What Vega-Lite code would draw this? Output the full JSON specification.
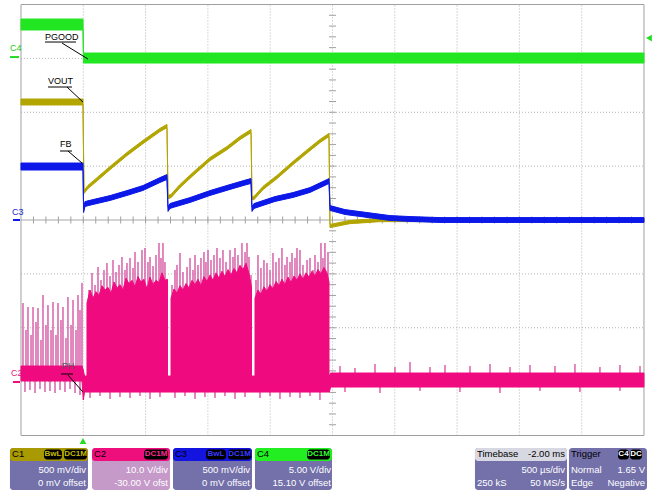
{
  "$schema": "https://vega.github.io/schema/vega-lite/v6.json",
  "width": 657,
  "height": 491,
  "autosize": {"type": "fit", "contains": "padding"},
  "padding": 0,
  "background": "white",
  "config": {"view": {"stroke": null}},
  "datasets": {
    "grid": [
      {"x": 1, "x2": 1, "y": -4, "y2": 4}, {"x": 2, "x2": 2, "y": -4, "y2": 4}, {"x": 3, "x2": 3, "y": -4, "y2": 4},
      {"x": 4, "x2": 4, "y": -4, "y2": 4}, {"x": 5, "x2": 5, "y": -4, "y2": 4}, {"x": 6, "x2": 6, "y": -4, "y2": 4},
      {"x": 7, "x2": 7, "y": -4, "y2": 4}, {"x": 8, "x2": 8, "y": -4, "y2": 4}, {"x": 9, "x2": 9, "y": -4, "y2": 4},
      {"x": 0, "x2": 10, "y": -3, "y2": -3}, {"x": 0, "x2": 10, "y": -2, "y2": -2}, {"x": 0, "x2": 10, "y": -1, "y2": -1},
      {"x": 0, "x2": 10, "y": 1, "y2": 1}, {"x": 0, "x2": 10, "y": 2, "y2": 2}, {"x": 0, "x2": 10, "y": 3, "y2": 3}
    ],
    "axes": [{"x": 0, "x2": 10, "y": 0, "y2": 0}],
    "frame": [{"x": 0, "x2": 10, "y": -4, "y2": 4}],
    "xticks": [
      {"x": 0.2, "y": 0}, {"x": 0.4, "y": 0}, {"x": 0.6, "y": 0}, {"x": 0.8, "y": 0}, {"x": 1.0, "y": 0}, {"x": 1.2, "y": 0}, {"x": 1.4, "y": 0}, {"x": 1.6, "y": 0}, {"x": 1.8, "y": 0}, {"x": 2.0, "y": 0},
      {"x": 2.2, "y": 0}, {"x": 2.4, "y": 0}, {"x": 2.6, "y": 0}, {"x": 2.8, "y": 0}, {"x": 3.0, "y": 0}, {"x": 3.2, "y": 0}, {"x": 3.4, "y": 0}, {"x": 3.6, "y": 0}, {"x": 3.8, "y": 0}, {"x": 4.0, "y": 0},
      {"x": 4.2, "y": 0}, {"x": 4.4, "y": 0}, {"x": 4.6, "y": 0}, {"x": 4.8, "y": 0}, {"x": 5.0, "y": 0}, {"x": 5.2, "y": 0}, {"x": 5.4, "y": 0}, {"x": 5.6, "y": 0}, {"x": 5.8, "y": 0}, {"x": 6.0, "y": 0},
      {"x": 6.2, "y": 0}, {"x": 6.4, "y": 0}, {"x": 6.6, "y": 0}, {"x": 6.8, "y": 0}, {"x": 7.0, "y": 0}, {"x": 7.2, "y": 0}, {"x": 7.4, "y": 0}, {"x": 7.6, "y": 0}, {"x": 7.8, "y": 0}, {"x": 8.0, "y": 0},
      {"x": 8.2, "y": 0}, {"x": 8.4, "y": 0}, {"x": 8.6, "y": 0}, {"x": 8.8, "y": 0}, {"x": 9.0, "y": 0}, {"x": 9.2, "y": 0}, {"x": 9.4, "y": 0}, {"x": 9.6, "y": 0}, {"x": 9.8, "y": 0}
    ],
    "yticks": [
      {"x": 5, "y": -3.8}, {"x": 5, "y": -3.6}, {"x": 5, "y": -3.4}, {"x": 5, "y": -3.2}, {"x": 5, "y": -3.0}, {"x": 5, "y": -2.8}, {"x": 5, "y": -2.6}, {"x": 5, "y": -2.4}, {"x": 5, "y": -2.2}, {"x": 5, "y": -2.0},
      {"x": 5, "y": -1.8}, {"x": 5, "y": -1.6}, {"x": 5, "y": -1.4}, {"x": 5, "y": -1.2}, {"x": 5, "y": -1.0}, {"x": 5, "y": -0.8}, {"x": 5, "y": -0.6}, {"x": 5, "y": -0.4}, {"x": 5, "y": -0.2},
      {"x": 5, "y": 0.2}, {"x": 5, "y": 0.4}, {"x": 5, "y": 0.6}, {"x": 5, "y": 0.8}, {"x": 5, "y": 1.0}, {"x": 5, "y": 1.2}, {"x": 5, "y": 1.4}, {"x": 5, "y": 1.6}, {"x": 5, "y": 1.8}, {"x": 5, "y": 2.0},
      {"x": 5, "y": 2.2}, {"x": 5, "y": 2.4}, {"x": 5, "y": 2.6}, {"x": 5, "y": 2.8}, {"x": 5, "y": 3.0}, {"x": 5, "y": 3.2}, {"x": 5, "y": 3.4}, {"x": 5, "y": 3.6}, {"x": 5, "y": 3.8}
    ],
    "spikes": [
      {"x": 0.032, "y": -2.95, "y2": -1.541}, {"x": 0.08, "y": -2.95, "y2": -2.042}, {"x": 0.112, "y": -2.95, "y2": -1.615}, {"x": 0.161, "y": -2.95, "y2": -2.134}, {"x": 0.193, "y": -2.95, "y2": -1.615},
      {"x": 0.241, "y": -2.95, "y2": -1.893}, {"x": 0.273, "y": -2.95, "y2": -1.633}, {"x": 0.321, "y": -2.95, "y2": -2.227}, {"x": 0.353, "y": -2.95, "y2": -1.392}, {"x": 0.401, "y": -2.95, "y2": -1.949},
      {"x": 0.433, "y": -2.95, "y2": -1.578}, {"x": 0.482, "y": -2.95, "y2": -2.042}, {"x": 0.514, "y": -2.95, "y2": -1.522}, {"x": 0.562, "y": -2.95, "y2": -2.134}, {"x": 0.594, "y": -2.95, "y2": -1.541},
      {"x": 0.642, "y": -2.95, "y2": -1.856}, {"x": 0.674, "y": -2.95, "y2": -1.615}, {"x": 0.722, "y": -2.95, "y2": -2.19}, {"x": 0.754, "y": -2.95, "y2": -1.429}, {"x": 0.803, "y": -2.95, "y2": -1.949},
      {"x": 0.835, "y": -2.95, "y2": -1.485}, {"x": 0.883, "y": -2.95, "y2": -2.042}, {"x": 0.915, "y": -2.95, "y2": -1.392}, {"x": 0.947, "y": -2.95, "y2": -1.67}, {"x": 0.979, "y": -2.95, "y2": -1.169},
      {"x": 1.091, "y": -2.95, "y2": -1.299}, {"x": 1.14, "y": -2.95, "y2": -0.984}, {"x": 1.188, "y": -2.95, "y2": -1.206}, {"x": 1.236, "y": -2.95, "y2": -0.872}, {"x": 1.284, "y": -2.95, "y2": -1.114},
      {"x": 1.332, "y": -2.95, "y2": -0.928}, {"x": 1.38, "y": -2.95, "y2": -0.798}, {"x": 1.429, "y": -2.95, "y2": -1.039}, {"x": 1.477, "y": -2.95, "y2": -0.742}, {"x": 1.525, "y": -2.95, "y2": -0.965},
      {"x": 1.573, "y": -2.95, "y2": -0.835}, {"x": 1.621, "y": -2.95, "y2": -0.687}, {"x": 1.669, "y": -2.95, "y2": -0.928}, {"x": 1.701, "y": -2.95, "y2": -0.798}, {"x": 1.75, "y": -2.95, "y2": -0.705},
      {"x": 1.798, "y": -2.95, "y2": -0.891}, {"x": 1.83, "y": -2.95, "y2": -0.594}, {"x": 1.878, "y": -2.95, "y2": -0.78}, {"x": 1.942, "y": -2.95, "y2": -0.557}, {"x": 1.99, "y": -2.95, "y2": -0.52},
      {"x": 2.038, "y": -2.95, "y2": -0.78}, {"x": 2.071, "y": -2.95, "y2": -0.687}, {"x": 2.119, "y": -2.95, "y2": -0.854}, {"x": 2.167, "y": -2.95, "y2": -0.65}, {"x": 2.215, "y": -2.95, "y2": -0.427},
      {"x": 2.247, "y": -2.95, "y2": -0.705}, {"x": 2.279, "y": -2.95, "y2": -0.427}, {"x": 2.311, "y": -2.95, "y2": -0.78}, {"x": 2.343, "y": -2.95, "y2": -1.114},
      {"x": 2.424, "y": -2.95, "y2": -1.206}, {"x": 2.472, "y": -2.95, "y2": -0.928}, {"x": 2.504, "y": -2.95, "y2": -0.835}, {"x": 2.552, "y": -2.95, "y2": -0.613}, {"x": 2.6, "y": -2.95, "y2": -0.965},
      {"x": 2.665, "y": -2.95, "y2": -0.872}, {"x": 2.713, "y": -2.95, "y2": -0.705}, {"x": 2.761, "y": -2.95, "y2": -0.928}, {"x": 2.793, "y": -2.95, "y2": -0.65}, {"x": 2.841, "y": -2.95, "y2": -0.835},
      {"x": 2.889, "y": -2.95, "y2": -0.705}, {"x": 2.937, "y": -2.95, "y2": -0.594}, {"x": 2.969, "y": -2.95, "y2": -0.78}, {"x": 3.002, "y": -2.95, "y2": -0.557}, {"x": 3.05, "y": -2.95, "y2": -0.742},
      {"x": 3.098, "y": -2.95, "y2": -0.65}, {"x": 3.146, "y": -2.95, "y2": -0.52}, {"x": 3.194, "y": -2.95, "y2": -0.705}, {"x": 3.242, "y": -2.95, "y2": -0.557}, {"x": 3.291, "y": -2.95, "y2": -0.78},
      {"x": 3.355, "y": -2.95, "y2": -0.557}, {"x": 3.403, "y": -2.95, "y2": -0.687}, {"x": 3.435, "y": -2.95, "y2": -0.52}, {"x": 3.483, "y": -2.95, "y2": -0.65}, {"x": 3.547, "y": -2.95, "y2": -0.427},
      {"x": 3.596, "y": -2.95, "y2": -0.594}, {"x": 3.628, "y": -2.95, "y2": -0.427}, {"x": 3.66, "y": -2.95, "y2": -0.687}, {"x": 3.692, "y": -2.95, "y2": -1.021},
      {"x": 3.772, "y": -2.95, "y2": -1.114}, {"x": 3.804, "y": -2.95, "y2": -0.65}, {"x": 3.852, "y": -2.95, "y2": -0.891}, {"x": 3.9, "y": -2.95, "y2": -0.742}, {"x": 3.949, "y": -2.95, "y2": -0.798},
      {"x": 3.997, "y": -2.95, "y2": -0.928}, {"x": 4.045, "y": -2.95, "y2": -0.613}, {"x": 4.093, "y": -2.95, "y2": -0.78}, {"x": 4.141, "y": -2.95, "y2": -0.705}, {"x": 4.189, "y": -2.95, "y2": -0.52},
      {"x": 4.237, "y": -2.95, "y2": -0.835}, {"x": 4.27, "y": -2.95, "y2": -0.687}, {"x": 4.318, "y": -2.95, "y2": -0.78}, {"x": 4.35, "y": -2.95, "y2": -0.613}, {"x": 4.398, "y": -2.95, "y2": -0.705},
      {"x": 4.43, "y": -2.95, "y2": -0.52}, {"x": 4.478, "y": -2.95, "y2": -0.557}, {"x": 4.526, "y": -2.95, "y2": -0.835}, {"x": 4.591, "y": -2.95, "y2": -0.742}, {"x": 4.639, "y": -2.95, "y2": -0.705},
      {"x": 4.687, "y": -2.95, "y2": -0.928}, {"x": 4.719, "y": -2.95, "y2": -0.65}, {"x": 4.767, "y": -2.95, "y2": -0.78}, {"x": 4.815, "y": -2.95, "y2": -0.427}, {"x": 4.847, "y": -2.95, "y2": -0.705},
      {"x": 4.879, "y": -2.95, "y2": -0.427}, {"x": 4.928, "y": -2.95, "y2": -0.594},
      {"x": 0.064, "y": -2.95, "y2": -3.193}, {"x": 0.144, "y": -2.95, "y2": -3.155}, {"x": 0.225, "y": -2.95, "y2": -3.211}, {"x": 0.305, "y": -2.95, "y2": -3.137}, {"x": 0.385, "y": -2.95, "y2": -3.193},
      {"x": 0.465, "y": -2.95, "y2": -3.174}, {"x": 0.546, "y": -2.95, "y2": -3.211}, {"x": 0.626, "y": -2.95, "y2": -3.155}, {"x": 0.706, "y": -2.95, "y2": -3.193}, {"x": 0.787, "y": -2.95, "y2": -3.137},
      {"x": 0.867, "y": -2.95, "y2": -3.211}, {"x": 0.947, "y": -2.95, "y2": -3.248},
      {"x": 1.108, "y": -2.95, "y2": -3.304}, {"x": 1.268, "y": -2.95, "y2": -3.267}, {"x": 1.429, "y": -2.95, "y2": -3.322}, {"x": 1.589, "y": -2.95, "y2": -3.285}, {"x": 1.75, "y": -2.95, "y2": -3.304},
      {"x": 1.91, "y": -2.95, "y2": -3.267}, {"x": 2.071, "y": -2.95, "y2": -3.322}, {"x": 2.231, "y": -2.95, "y2": -3.285}, {"x": 2.472, "y": -2.95, "y2": -3.304}, {"x": 2.632, "y": -2.95, "y2": -3.267},
      {"x": 2.793, "y": -2.95, "y2": -3.322}, {"x": 2.953, "y": -2.95, "y2": -3.285}, {"x": 3.114, "y": -2.95, "y2": -3.304}, {"x": 3.274, "y": -2.95, "y2": -3.267}, {"x": 3.435, "y": -2.95, "y2": -3.322},
      {"x": 3.596, "y": -2.95, "y2": -3.285}, {"x": 3.836, "y": -2.95, "y2": -3.304}, {"x": 3.997, "y": -2.95, "y2": -3.267}, {"x": 4.157, "y": -2.95, "y2": -3.322}, {"x": 4.318, "y": -2.95, "y2": -3.285},
      {"x": 4.478, "y": -2.95, "y2": -3.304}, {"x": 4.639, "y": -2.95, "y2": -3.267}, {"x": 4.799, "y": -2.95, "y2": -3.341},
      {"x": 5.12, "y": -2.95, "y2": -2.71}, {"x": 5.361, "y": -2.95, "y2": -2.747}, {"x": 5.682, "y": -2.95, "y2": -2.673}, {"x": 6.003, "y": -2.95, "y2": -2.729}, {"x": 6.244, "y": -2.95, "y2": -2.636},
      {"x": 6.565, "y": -2.95, "y2": -2.729}, {"x": 6.806, "y": -2.95, "y2": -2.691}, {"x": 7.207, "y": -2.95, "y2": -2.71}, {"x": 7.528, "y": -2.95, "y2": -2.673}, {"x": 7.849, "y": -2.95, "y2": -2.729},
      {"x": 8.17, "y": -2.95, "y2": -2.691}, {"x": 8.571, "y": -2.95, "y2": -2.71}, {"x": 8.892, "y": -2.95, "y2": -2.673}, {"x": 9.293, "y": -2.95, "y2": -2.729}, {"x": 9.614, "y": -2.95, "y2": -2.691},
      {"x": 9.936, "y": -2.95, "y2": -2.71},
      {"x": 5.201, "y": -2.95, "y2": -3.193}, {"x": 5.762, "y": -2.95, "y2": -3.211}, {"x": 6.404, "y": -2.95, "y2": -3.174}, {"x": 7.046, "y": -2.95, "y2": -3.193}, {"x": 7.688, "y": -2.95, "y2": -3.211},
      {"x": 8.33, "y": -2.95, "y2": -3.174}, {"x": 8.972, "y": -2.95, "y2": -3.193}, {"x": 9.614, "y": -2.95, "y2": -3.174}
    ],
    "traces": [
      {"ch": "C4", "seg": "a", "x": 0, "y": 3.527, "y2": 3.731},
      {"ch": "C4", "seg": "a", "x": 0.995, "y": 3.527, "y2": 3.731},
      {"ch": "C4", "seg": "a", "x": 1.003, "y": 2.914, "y2": 3.1},
      {"ch": "C4", "seg": "a", "x": 10, "y": 2.914, "y2": 3.1},

      {"ch": "C1", "seg": "a", "x": 0, "y": 2.135, "y2": 2.246},
      {"ch": "C1", "seg": "a", "x": 0.995, "y": 2.135, "y2": 2.246},
      {"ch": "C1", "seg": "a", "x": 1.011, "y": 0.49, "y2": 0.55},
      {"ch": "C1", "seg": "a", "x": 1.075, "y": 0.583, "y2": 0.643},
      {"ch": "C1", "seg": "a", "x": 1.188, "y": 0.694, "y2": 0.754},
      {"ch": "C1", "seg": "a", "x": 1.429, "y": 0.935, "y2": 0.995},
      {"ch": "C1", "seg": "a", "x": 1.701, "y": 1.195, "y2": 1.255},
      {"ch": "C1", "seg": "a", "x": 1.958, "y": 1.418, "y2": 1.478},
      {"ch": "C1", "seg": "a", "x": 2.231, "y": 1.641, "y2": 1.701},
      {"ch": "C1", "seg": "a", "x": 2.343, "y": 1.715, "y2": 1.775},
      {"ch": "C1", "seg": "a", "x": 2.36, "y": 0.397, "y2": 0.457},
      {"ch": "C1", "seg": "a", "x": 2.408, "y": 0.415, "y2": 0.475},
      {"ch": "C1", "seg": "a", "x": 2.552, "y": 0.601, "y2": 0.661},
      {"ch": "C1", "seg": "a", "x": 2.761, "y": 0.824, "y2": 0.884},
      {"ch": "C1", "seg": "a", "x": 3.034, "y": 1.102, "y2": 1.162},
      {"ch": "C1", "seg": "a", "x": 3.307, "y": 1.306, "y2": 1.366},
      {"ch": "C1", "seg": "a", "x": 3.515, "y": 1.492, "y2": 1.552},
      {"ch": "C1", "seg": "a", "x": 3.692, "y": 1.622, "y2": 1.682},
      {"ch": "C1", "seg": "a", "x": 3.708, "y": 0.378, "y2": 0.438},
      {"ch": "C1", "seg": "a", "x": 3.74, "y": 0.378, "y2": 0.438},
      {"ch": "C1", "seg": "a", "x": 3.884, "y": 0.564, "y2": 0.624},
      {"ch": "C1", "seg": "a", "x": 4.109, "y": 0.768, "y2": 0.828},
      {"ch": "C1", "seg": "a", "x": 4.366, "y": 1.028, "y2": 1.088},
      {"ch": "C1", "seg": "a", "x": 4.639, "y": 1.288, "y2": 1.348},
      {"ch": "C1", "seg": "a", "x": 4.799, "y": 1.436, "y2": 1.496},
      {"ch": "C1", "seg": "a", "x": 4.944, "y": 1.548, "y2": 1.608},
      {"ch": "C1", "seg": "a", "x": 4.96, "y": -0.141, "y2": -0.081},
      {"ch": "C1", "seg": "a", "x": 5.12, "y": -0.104, "y2": -0.044},
      {"ch": "C1", "seg": "a", "x": 5.281, "y": -0.067, "y2": -0.007},
      {"ch": "C1", "seg": "a", "x": 5.522, "y": -0.049, "y2": 0.011},
      {"ch": "C1", "seg": "a", "x": 5.762, "y": -0.03, "y2": 0.03},
      {"ch": "C1", "seg": "a", "x": 10, "y": -0.03, "y2": 0.03},

      {"ch": "C3", "seg": "a", "x": 0, "y": 0.928, "y2": 1.058},
      {"ch": "C3", "seg": "a", "x": 0.995, "y": 0.928, "y2": 1.058},
      {"ch": "C3", "seg": "a", "x": 1.005, "y": 0.14, "y2": 0.232},
      {"ch": "C3", "seg": "a", "x": 1.027, "y": 0.252, "y2": 0.342},
      {"ch": "C3", "seg": "a", "x": 1.156, "y": 0.289, "y2": 0.379},
      {"ch": "C3", "seg": "a", "x": 1.429, "y": 0.363, "y2": 0.453},
      {"ch": "C3", "seg": "a", "x": 1.701, "y": 0.456, "y2": 0.546},
      {"ch": "C3", "seg": "a", "x": 1.958, "y": 0.549, "y2": 0.639},
      {"ch": "C3", "seg": "a", "x": 2.231, "y": 0.697, "y2": 0.787},
      {"ch": "C3", "seg": "a", "x": 2.343, "y": 0.753, "y2": 0.843},
      {"ch": "C3", "seg": "a", "x": 2.36, "y": 0.159, "y2": 0.249},
      {"ch": "C3", "seg": "a", "x": 2.392, "y": 0.215, "y2": 0.305},
      {"ch": "C3", "seg": "a", "x": 2.44, "y": 0.233, "y2": 0.323},
      {"ch": "C3", "seg": "a", "x": 2.713, "y": 0.326, "y2": 0.416},
      {"ch": "C3", "seg": "a", "x": 3.034, "y": 0.456, "y2": 0.546},
      {"ch": "C3", "seg": "a", "x": 3.355, "y": 0.568, "y2": 0.658},
      {"ch": "C3", "seg": "a", "x": 3.628, "y": 0.66, "y2": 0.75},
      {"ch": "C3", "seg": "a", "x": 3.692, "y": 0.679, "y2": 0.769},
      {"ch": "C3", "seg": "a", "x": 3.708, "y": 0.159, "y2": 0.249},
      {"ch": "C3", "seg": "a", "x": 3.74, "y": 0.215, "y2": 0.305},
      {"ch": "C3", "seg": "a", "x": 3.788, "y": 0.233, "y2": 0.323},
      {"ch": "C3", "seg": "a", "x": 4.077, "y": 0.345, "y2": 0.435},
      {"ch": "C3", "seg": "a", "x": 4.366, "y": 0.419, "y2": 0.509},
      {"ch": "C3", "seg": "a", "x": 4.639, "y": 0.512, "y2": 0.602},
      {"ch": "C3", "seg": "a", "x": 4.911, "y": 0.66, "y2": 0.75},
      {"ch": "C3", "seg": "a", "x": 4.944, "y": 0.679, "y2": 0.769},
      {"ch": "C3", "seg": "a", "x": 4.96, "y": 0.178, "y2": 0.268},
      {"ch": "C3", "seg": "a", "x": 5.201, "y": 0.103, "y2": 0.193},
      {"ch": "C3", "seg": "a", "x": 5.441, "y": 0.066, "y2": 0.156},
      {"ch": "C3", "seg": "a", "x": 5.682, "y": 0.029, "y2": 0.119},
      {"ch": "C3", "seg": "a", "x": 5.923, "y": -0.008, "y2": 0.082},
      {"ch": "C3", "seg": "a", "x": 6.244, "y": -0.026, "y2": 0.064},
      {"ch": "C3", "seg": "a", "x": 6.726, "y": -0.045, "y2": 0.045},
      {"ch": "C3", "seg": "a", "x": 10, "y": -0.045, "y2": 0.045},

      {"ch": "C2", "seg": "base", "x": 0, "y": -2.988, "y2": -2.71},
      {"ch": "C2", "seg": "base", "x": 0.98, "y": -2.988, "y2": -2.71},
      {"ch": "C2", "seg": "base", "x": 1.0, "y": -3.341, "y2": -2.784},
      {"ch": "C2", "seg": "base", "x": 1.02, "y": -3.193, "y2": -2.896},
      {"ch": "C2", "seg": "base", "x": 4.95, "y": -3.193, "y2": -2.896},
      {"ch": "C2", "seg": "base", "x": 4.97, "y": -3.1, "y2": -2.84},
      {"ch": "C2", "seg": "base", "x": 10, "y": -3.1, "y2": -2.84},

      {"ch": "C2", "seg": "d1", "x": 1.059, "y": -3.118, "y2": -1.541},
      {"ch": "C2", "seg": "d1", "x": 1.108, "y": -3.118, "y2": -1.3},
      {"ch": "C2", "seg": "d1", "x": 1.156, "y": -3.118, "y2": -1.45},
      {"ch": "C2", "seg": "d1", "x": 1.204, "y": -3.118, "y2": -1.33},
      {"ch": "C2", "seg": "d1", "x": 1.252, "y": -3.118, "y2": -1.4},
      {"ch": "C2", "seg": "d1", "x": 1.3, "y": -3.118, "y2": -1.22},
      {"ch": "C2", "seg": "d1", "x": 1.348, "y": -3.118, "y2": -1.3},
      {"ch": "C2", "seg": "d1", "x": 1.396, "y": -3.118, "y2": -1.25},
      {"ch": "C2", "seg": "d1", "x": 1.445, "y": -3.118, "y2": -1.36},
      {"ch": "C2", "seg": "d1", "x": 1.493, "y": -3.118, "y2": -1.15},
      {"ch": "C2", "seg": "d1", "x": 1.541, "y": -3.118, "y2": -1.26},
      {"ch": "C2", "seg": "d1", "x": 1.589, "y": -3.118, "y2": -1.2},
      {"ch": "C2", "seg": "d1", "x": 1.637, "y": -3.118, "y2": -1.3},
      {"ch": "C2", "seg": "d1", "x": 1.685, "y": -3.118, "y2": -1.08},
      {"ch": "C2", "seg": "d1", "x": 1.733, "y": -3.118, "y2": -1.18},
      {"ch": "C2", "seg": "d1", "x": 1.782, "y": -3.118, "y2": -1.12},
      {"ch": "C2", "seg": "d1", "x": 1.83, "y": -3.118, "y2": -1.24},
      {"ch": "C2", "seg": "d1", "x": 1.878, "y": -3.118, "y2": -1.05},
      {"ch": "C2", "seg": "d1", "x": 1.926, "y": -3.118, "y2": -1.15},
      {"ch": "C2", "seg": "d1", "x": 1.974, "y": -3.118, "y2": -1.1},
      {"ch": "C2", "seg": "d1", "x": 2.022, "y": -3.118, "y2": -1.28},
      {"ch": "C2", "seg": "d1", "x": 2.071, "y": -3.118, "y2": -1.06},
      {"ch": "C2", "seg": "d1", "x": 2.119, "y": -3.118, "y2": -1.2},
      {"ch": "C2", "seg": "d1", "x": 2.167, "y": -3.118, "y2": -1.12},
      {"ch": "C2", "seg": "d1", "x": 2.215, "y": -3.118, "y2": -1.16},
      {"ch": "C2", "seg": "d1", "x": 2.263, "y": -3.118, "y2": -0.98},
      {"ch": "C2", "seg": "d1", "x": 2.311, "y": -3.118, "y2": -1.12},
      {"ch": "C2", "seg": "d1", "x": 2.351, "y": -3.118, "y2": -1.1},

      {"ch": "C2", "seg": "d2", "x": 2.408, "y": -3.118, "y2": -1.45},
      {"ch": "C2", "seg": "d2", "x": 2.456, "y": -3.118, "y2": -1.28},
      {"ch": "C2", "seg": "d2", "x": 2.504, "y": -3.118, "y2": -1.36},
      {"ch": "C2", "seg": "d2", "x": 2.552, "y": -3.118, "y2": -1.22},
      {"ch": "C2", "seg": "d2", "x": 2.6, "y": -3.118, "y2": -1.3},
      {"ch": "C2", "seg": "d2", "x": 2.648, "y": -3.118, "y2": -1.18},
      {"ch": "C2", "seg": "d2", "x": 2.697, "y": -3.118, "y2": -1.26},
      {"ch": "C2", "seg": "d2", "x": 2.745, "y": -3.118, "y2": -1.12},
      {"ch": "C2", "seg": "d2", "x": 2.793, "y": -3.118, "y2": -1.2},
      {"ch": "C2", "seg": "d2", "x": 2.841, "y": -3.118, "y2": -1.1},
      {"ch": "C2", "seg": "d2", "x": 2.889, "y": -3.118, "y2": -1.22},
      {"ch": "C2", "seg": "d2", "x": 2.937, "y": -3.118, "y2": -1.05},
      {"ch": "C2", "seg": "d2", "x": 2.985, "y": -3.118, "y2": -1.14},
      {"ch": "C2", "seg": "d2", "x": 3.034, "y": -3.118, "y2": -1.02},
      {"ch": "C2", "seg": "d2", "x": 3.082, "y": -3.118, "y2": -1.12},
      {"ch": "C2", "seg": "d2", "x": 3.13, "y": -3.118, "y2": -0.98},
      {"ch": "C2", "seg": "d2", "x": 3.178, "y": -3.118, "y2": -1.08},
      {"ch": "C2", "seg": "d2", "x": 3.226, "y": -3.118, "y2": -0.95},
      {"ch": "C2", "seg": "d2", "x": 3.274, "y": -3.118, "y2": -1.05},
      {"ch": "C2", "seg": "d2", "x": 3.323, "y": -3.118, "y2": -0.92},
      {"ch": "C2", "seg": "d2", "x": 3.371, "y": -3.118, "y2": -1.02},
      {"ch": "C2", "seg": "d2", "x": 3.419, "y": -3.118, "y2": -0.9},
      {"ch": "C2", "seg": "d2", "x": 3.467, "y": -3.118, "y2": -0.98},
      {"ch": "C2", "seg": "d2", "x": 3.515, "y": -3.118, "y2": -0.84},
      {"ch": "C2", "seg": "d2", "x": 3.563, "y": -3.118, "y2": -0.92},
      {"ch": "C2", "seg": "d2", "x": 3.612, "y": -3.118, "y2": -0.8},
      {"ch": "C2", "seg": "d2", "x": 3.66, "y": -3.118, "y2": -1.0},
      {"ch": "C2", "seg": "d2", "x": 3.7, "y": -3.118, "y2": -1.25},

      {"ch": "C2", "seg": "d3", "x": 3.756, "y": -3.118, "y2": -1.45},
      {"ch": "C2", "seg": "d3", "x": 3.804, "y": -3.118, "y2": -1.3},
      {"ch": "C2", "seg": "d3", "x": 3.852, "y": -3.118, "y2": -1.38},
      {"ch": "C2", "seg": "d3", "x": 3.9, "y": -3.118, "y2": -1.24},
      {"ch": "C2", "seg": "d3", "x": 3.949, "y": -3.118, "y2": -1.32},
      {"ch": "C2", "seg": "d3", "x": 3.997, "y": -3.118, "y2": -1.2},
      {"ch": "C2", "seg": "d3", "x": 4.045, "y": -3.118, "y2": -1.28},
      {"ch": "C2", "seg": "d3", "x": 4.093, "y": -3.118, "y2": -1.14},
      {"ch": "C2", "seg": "d3", "x": 4.141, "y": -3.118, "y2": -1.22},
      {"ch": "C2", "seg": "d3", "x": 4.189, "y": -3.118, "y2": -1.1},
      {"ch": "C2", "seg": "d3", "x": 4.237, "y": -3.118, "y2": -1.2},
      {"ch": "C2", "seg": "d3", "x": 4.286, "y": -3.118, "y2": -1.06},
      {"ch": "C2", "seg": "d3", "x": 4.334, "y": -3.118, "y2": -1.16},
      {"ch": "C2", "seg": "d3", "x": 4.382, "y": -3.118, "y2": -1.04},
      {"ch": "C2", "seg": "d3", "x": 4.43, "y": -3.118, "y2": -1.12},
      {"ch": "C2", "seg": "d3", "x": 4.478, "y": -3.118, "y2": -1.0},
      {"ch": "C2", "seg": "d3", "x": 4.526, "y": -3.118, "y2": -1.1},
      {"ch": "C2", "seg": "d3", "x": 4.575, "y": -3.118, "y2": -0.98},
      {"ch": "C2", "seg": "d3", "x": 4.623, "y": -3.118, "y2": -1.06},
      {"ch": "C2", "seg": "d3", "x": 4.671, "y": -3.118, "y2": -0.95},
      {"ch": "C2", "seg": "d3", "x": 4.719, "y": -3.118, "y2": -1.04},
      {"ch": "C2", "seg": "d3", "x": 4.767, "y": -3.118, "y2": -0.92},
      {"ch": "C2", "seg": "d3", "x": 4.815, "y": -3.118, "y2": -1.0},
      {"ch": "C2", "seg": "d3", "x": 4.863, "y": -3.118, "y2": -0.88},
      {"ch": "C2", "seg": "d3", "x": 4.911, "y": -3.118, "y2": -0.98},
      {"ch": "C2", "seg": "d3", "x": 4.944, "y": -3.118, "y2": -1.15}
    ],
    "leaders": [
      {"x": 0.385, "y": 3.304, "x2": 0.883, "y2": 3.304},
      {"x": 0.658, "y": 3.285, "x2": 1.075, "y2": 2.988},
      {"x": 0.433, "y": 2.469, "x2": 0.819, "y2": 2.469},
      {"x": 0.738, "y": 2.469, "x2": 0.995, "y2": 2.19},
      {"x": 0.626, "y": 1.281, "x2": 0.819, "y2": 1.281},
      {"x": 0.754, "y": 1.281, "x2": 0.979, "y2": 1.058},
      {"x": 0.642, "y": -2.858, "x2": 0.835, "y2": -2.858},
      {"x": 0.754, "y": -2.877, "x2": 0.995, "y2": -3.193}
    ],
    "chmarks": [
      {"x": -0.177, "x2": -0.032, "y": 3.025, "y2": 3.025, "ch": "C4"},
      {"x": -0.128, "x2": -0.016, "y": 0, "y2": 0, "ch": "C3"},
      {"x": -0.128, "x2": -0.016, "y": -3.007, "y2": -3.007, "ch": "C2"}
    ],
    "labels": [
      {"x": 0.385, "y": 3.397, "text": "PGOOD", "tone": "ink"},
      {"x": 0.433, "y": 2.58, "text": "VOUT", "tone": "ink"},
      {"x": 0.626, "y": 1.411, "text": "FB", "tone": "ink"},
      {"x": 0.658, "y": -2.71, "text": "PH", "tone": "gray"},
      {"x": -0.177, "y": 3.193, "text": "C4", "tone": "C4"},
      {"x": -0.144, "y": 0.148, "text": "C3", "tone": "C3"},
      {"x": -0.16, "y": -2.84, "text": "C2", "tone": "C2"}
    ],
    "markers": [
      {"x": 10.08, "y": 3.378, "dir": "left"},
      {"x": 0.995, "y": -4.102, "dir": "up"}
    ],
    "panel": [
      {"x": -0.177, "x2": 1.075, "y": -5.012, "y2": -4.232, "fill": "body"},
      {"x": 1.14, "x2": 2.392, "y": -5.012, "y2": -4.232, "fill": "body2"},
      {"x": 2.44, "x2": 3.708, "y": -5.012, "y2": -4.232, "fill": "body"},
      {"x": 3.756, "x2": 4.992, "y": -5.012, "y2": -4.232, "fill": "body"},
      {"x": 7.287, "x2": 8.764, "y": -5.012, "y2": -4.232, "fill": "body"},
      {"x": 8.796, "x2": 10.048, "y": -5.012, "y2": -4.232, "fill": "body"},
      {"x": -0.177, "x2": 1.075, "y": -4.473, "y2": -4.232, "fill": "C1"},
      {"x": 1.14, "x2": 2.392, "y": -4.473, "y2": -4.232, "fill": "C2"},
      {"x": 2.44, "x2": 3.708, "y": -4.473, "y2": -4.232, "fill": "C3"},
      {"x": 3.756, "x2": 4.992, "y": -4.473, "y2": -4.232, "fill": "C4"},
      {"x": 7.287, "x2": 8.764, "y": -4.473, "y2": -4.232, "fill": "gray"},
      {"x": 0.369, "x2": 0.658, "y": -4.445, "y2": -4.259, "fill": "tag"},
      {"x": 0.69, "x2": 1.059, "y": -4.445, "y2": -4.259, "fill": "tag"},
      {"x": 1.975, "x2": 2.36, "y": -4.445, "y2": -4.259, "fill": "tag"},
      {"x": 2.969, "x2": 3.291, "y": -4.445, "y2": -4.259, "fill": "tag"},
      {"x": 3.323, "x2": 3.692, "y": -4.445, "y2": -4.259, "fill": "tag"},
      {"x": 4.591, "x2": 4.96, "y": -4.445, "y2": -4.259, "fill": "tag"},
      {"x": 9.583, "x2": 9.759, "y": -4.445, "y2": -4.259, "fill": "tag"},
      {"x": 9.775, "x2": 9.968, "y": -4.445, "y2": -4.259, "fill": "tag"}
    ],
    "ptext": [
      {"x": 0.514, "y": -4.352, "text": "BwL", "tone": "C1", "align": "center"},
      {"x": 0.875, "y": -4.352, "text": "DC1M", "tone": "C1", "align": "center"},
      {"x": 2.168, "y": -4.352, "text": "DC1M", "tone": "C2", "align": "center"},
      {"x": 3.13, "y": -4.352, "text": "BwL", "tone": "C3", "align": "center"},
      {"x": 3.508, "y": -4.352, "text": "DC1M", "tone": "C3", "align": "center"},
      {"x": 4.776, "y": -4.352, "text": "DC1M", "tone": "C4", "align": "center"},
      {"x": 9.671, "y": -4.352, "text": "C4", "tone": "white", "align": "center"},
      {"x": 9.872, "y": -4.352, "text": "DC", "tone": "white", "align": "center"},
      {"x": -0.144, "y": -4.352, "text": "C1", "tone": "ink", "align": "left"},
      {"x": 1.172, "y": -4.352, "text": "C2", "tone": "ink", "align": "left"},
      {"x": 2.472, "y": -4.352, "text": "C3", "tone": "ink", "align": "left"},
      {"x": 3.788, "y": -4.352, "text": "C4", "tone": "ink", "align": "left"},
      {"x": 7.319, "y": -4.352, "text": "Timebase", "tone": "ink", "align": "left"},
      {"x": 8.828, "y": -4.352, "text": "Trigger", "tone": "ink", "align": "left"},
      {"x": 8.732, "y": -4.352, "text": "-2.00 ms", "tone": "ink", "align": "right"},
      {"x": 1.043, "y": -4.64, "text": "500 mV/div", "tone": "white", "align": "right"},
      {"x": 1.043, "y": -4.882, "text": "0 mV offset", "tone": "white", "align": "right"},
      {"x": 2.36, "y": -4.64, "text": "10.0 V/div", "tone": "white", "align": "right"},
      {"x": 2.36, "y": -4.882, "text": "-30.00 V ofst", "tone": "white", "align": "right"},
      {"x": 3.676, "y": -4.64, "text": "500 mV/div", "tone": "white", "align": "right"},
      {"x": 3.676, "y": -4.882, "text": "0 mV offset", "tone": "white", "align": "right"},
      {"x": 4.976, "y": -4.64, "text": "5.00 V/div", "tone": "white", "align": "right"},
      {"x": 4.976, "y": -4.882, "text": "15.10 V offset", "tone": "white", "align": "right"},
      {"x": 8.732, "y": -4.64, "text": "500 µs/div", "tone": "white", "align": "right"},
      {"x": 7.319, "y": -4.882, "text": "250 kS", "tone": "white", "align": "left"},
      {"x": 8.732, "y": -4.882, "text": "50 MS/s", "tone": "white", "align": "right"},
      {"x": 8.828, "y": -4.64, "text": "Normal", "tone": "white", "align": "left"},
      {"x": 10.016, "y": -4.64, "text": "1.65 V", "tone": "white", "align": "right"},
      {"x": 8.828, "y": -4.882, "text": "Edge", "tone": "white", "align": "left"},
      {"x": 10.016, "y": -4.882, "text": "Negative", "tone": "white", "align": "right"}
    ]
  },
  "encoding": {
    "x": {"field": "x", "type": "quantitative", "scale": {"domain": [-0.337, 10.209], "nice": false, "zero": false}, "axis": null},
    "y": {"field": "y", "type": "quantitative", "scale": {"domain": [-5.03, 4.084], "nice": false, "zero": false}, "axis": null}
  },
  "layer": [
    {
      "data": {"name": "grid"},
      "mark": {"type": "rule", "color": "#b4b4b4", "strokeWidth": 1, "strokeDash": [1, 2]},
      "encoding": {"x2": {"field": "x2"}, "y2": {"field": "y2"}}
    },
    {
      "data": {"name": "axes"},
      "mark": {"type": "rule", "color": "#a6a6a6", "strokeWidth": 1},
      "encoding": {"x2": {"field": "x2"}, "y2": {"field": "y2"}}
    },
    {
      "data": {"name": "xticks"},
      "mark": {"type": "tick", "orient": "vertical", "color": "#a0a0a0", "size": 7, "thickness": 1, "opacity": 1}
    },
    {
      "data": {"name": "yticks"},
      "mark": {"type": "tick", "orient": "horizontal", "color": "#a0a0a0", "size": 7, "thickness": 1, "opacity": 1}
    },
    {
      "data": {"name": "frame"},
      "mark": {"type": "rect", "fillOpacity": 0, "stroke": "#a0a0a0", "strokeWidth": 1},
      "encoding": {"x2": {"field": "x2"}, "y2": {"field": "y2"}}
    },
    {
      "data": {"name": "spikes"},
      "mark": {"type": "rule", "color": "#d862aa", "strokeWidth": 1.5},
      "encoding": {"y2": {"field": "y2"}}
    },
    {
      "data": {"name": "traces"},
      "transform": [{"filter": "datum.ch === 'C2'"}],
      "mark": {"type": "area", "color": "#f00a80", "stroke": "#f00a80", "strokeWidth": 1},
      "encoding": {"y2": {"field": "y2"}, "detail": {"field": "seg"}}
    },
    {
      "data": {"name": "traces"},
      "transform": [{"filter": "datum.ch === 'C1'"}],
      "mark": {"type": "area", "color": "#b3a500", "stroke": "#b3a500", "strokeWidth": 1},
      "encoding": {"y2": {"field": "y2"}, "detail": {"field": "seg"}}
    },
    {
      "data": {"name": "traces"},
      "transform": [{"filter": "datum.ch === 'C3'"}],
      "mark": {"type": "area", "color": "#0c18e8", "stroke": "#0c18e8", "strokeWidth": 1},
      "encoding": {"y2": {"field": "y2"}, "detail": {"field": "seg"}}
    },
    {
      "data": {"name": "traces"},
      "transform": [{"filter": "datum.ch === 'C4'"}],
      "mark": {"type": "area", "color": "#22e622", "stroke": "#22e622", "strokeWidth": 1},
      "encoding": {"y2": {"field": "y2"}, "detail": {"field": "seg"}}
    },
    {
      "data": {"name": "leaders"},
      "mark": {"type": "rule", "color": "#000000", "strokeWidth": 1},
      "encoding": {"x2": {"field": "x2"}, "y2": {"field": "y2"}}
    },
    {
      "data": {"name": "chmarks"},
      "mark": {"type": "rule", "strokeWidth": 2},
      "encoding": {
        "x2": {"field": "x2"},
        "y2": {"field": "y2"},
        "color": {"field": "ch", "type": "nominal", "scale": {"domain": ["C2", "C3", "C4"], "range": ["#f00a80", "#0c18e8", "#22dd22"]}, "legend": null}
      }
    },
    {
      "data": {"name": "labels"},
      "mark": {"type": "text", "align": "left", "baseline": "middle", "font": "Liberation Sans", "fontSize": 9},
      "encoding": {
        "text": {"field": "text"},
        "color": {"field": "tone", "type": "nominal", "scale": {"domain": ["ink", "gray", "C2", "C3", "C4"], "range": ["#000000", "#555555", "#e0147c", "#1a2ad0", "#22cc22"]}, "legend": null}
      }
    },
    {
      "data": {"name": "markers"},
      "mark": {"type": "point", "filled": true, "size": 45, "color": "#22dd22", "opacity": 1},
      "encoding": {
        "shape": {"field": "dir", "type": "nominal", "scale": {"domain": ["left", "up"], "range": ["triangle-left", "triangle-up"]}, "legend": null}
      }
    },
    {
      "data": {"name": "panel"},
      "mark": {"type": "rect", "cornerRadius": 3},
      "encoding": {
        "x2": {"field": "x2"},
        "y2": {"field": "y2"},
        "color": {"field": "fill", "type": "nominal", "scale": {"domain": ["body", "body2", "C1", "C2", "C3", "C4", "gray", "tag"], "range": ["#7370aa", "#c59ac9", "#a89a00", "#ef0f7c", "#1414e0", "#22ee22", "#d8d8e2", "#000000"]}, "legend": null}
      }
    },
    {
      "data": {"name": "ptext"},
      "transform": [{"filter": "datum.align === 'center'"}],
      "mark": {"type": "text", "align": "center", "baseline": "middle", "font": "Liberation Sans", "fontSize": 8, "fontWeight": "bold"},
      "encoding": {
        "text": {"field": "text"},
        "color": {"field": "tone", "type": "nominal", "scale": {"domain": ["ink", "white", "C1", "C2", "C3", "C4"], "range": ["#000000", "#ffffff", "#c8bc00", "#ff2a90", "#3a3aff", "#33ff33"]}, "legend": null}
      }
    },
    {
      "data": {"name": "ptext"},
      "transform": [{"filter": "datum.align === 'left'"}],
      "mark": {"type": "text", "align": "left", "baseline": "middle", "font": "Liberation Sans", "fontSize": 9.5},
      "encoding": {
        "text": {"field": "text"},
        "color": {"field": "tone", "type": "nominal", "scale": {"domain": ["ink", "white"], "range": ["#000000", "#ffffff"]}, "legend": null}
      }
    },
    {
      "data": {"name": "ptext"},
      "transform": [{"filter": "datum.align === 'right'"}],
      "mark": {"type": "text", "align": "right", "baseline": "middle", "font": "Liberation Sans", "fontSize": 9.5},
      "encoding": {
        "text": {"field": "text"},
        "color": {"field": "tone", "type": "nominal", "scale": {"domain": ["ink", "white"], "range": ["#000000", "#ffffff"]}, "legend": null}
      }
    }
  ],
  "resolve": {"scale": {"color": "independent", "shape": "independent"}}
}
